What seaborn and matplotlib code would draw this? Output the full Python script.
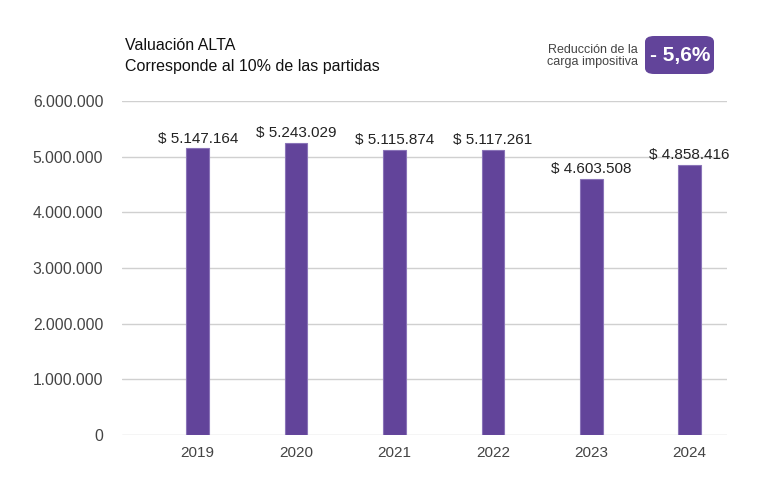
"""
Valuación ALTA - bar chart
"""
import matplotlib.pyplot as plt
import pandas as pd
import seaborn as sns
from matplotlib.patches import FancyBboxPatch
from matplotlib.ticker import FuncFormatter

years = ["2019", "2020", "2021", "2022", "2023", "2024"]
values = [5147164, 5243029, 5115874, 5117261, 4603508, 4858416]
y_ticks = [0, 1000000, 2000000, 3000000, 4000000, 5000000, 6000000]

title_lines = ["Valuación ALTA", "Corresponde al 10% de las partidas"]
badge_text = "- 5,6%"
badge_caption = "Reducción de la\ncarga impositiva"

bar_color = "#62449a"
text_color = "#444444"


def miles(v):
    return f"{int(v):,}".replace(",", ".")


if __name__ == "__main__":
    df = pd.DataFrame({"year": years, "value": values})

    sns.set_style("white")
    plt.rcParams["font.family"] = ["Liberation Sans", "DejaVu Sans"]

    fig = plt.figure(figsize=(7.67, 4.90), dpi=100)
    ax = fig.add_axes([122 / 767, 55 / 490, 605 / 767, 334 / 490])

    sns.barplot(
        data=df,
        x="year",
        y="value",
        order=years,
        color=bar_color,
        saturation=1,
        width=0.23,
        edgecolor="#8a74b8",
        linewidth=0.8,
        ax=ax,
    )

    # bar labels
    for p, v in zip(ax.patches, values):
        ax.annotate(
            "$ " + miles(v),
            (p.get_x() + p.get_width() / 2.0, p.get_height()),
            ha="center",
            va="bottom",
            xytext=(0, 2),
            textcoords="offset points",
            color="#222222",
            fontsize=11,
        )

    # axes styling
    ax.set_xlim(-0.77, 5.38)
    ax.set_ylim(0, 6000000)
    ax.set_yticks(y_ticks)
    ax.yaxis.set_major_formatter(FuncFormatter(lambda v, _: miles(v)))
    ax.grid(axis="y", color="#d0d0d0", linewidth=1)
    ax.set_axisbelow(True)
    for s in ax.spines.values():
        s.set_visible(False)
    ax.tick_params(axis="y", length=0, pad=13.5, labelsize=11.3, labelcolor=text_color)
    ax.tick_params(axis="x", length=0, pad=8, labelsize=11, labelcolor=text_color)
    ax.set_xlabel("")
    ax.set_ylabel("")

    # title
    fig.text(125 / 767, 1 - 45 / 490, title_lines[0], fontsize=11.5, color="#111111", va="center")
    fig.text(125 / 767, 1 - 66 / 490, title_lines[1], fontsize=11.5, color="#111111", va="center")

    # badge
    badge = FancyBboxPatch(
        (645 / 767, 1 - 74 / 490),
        69 / 767,
        38 / 490,
        boxstyle="round,pad=0,rounding_size=0.012",
        transform=fig.transFigure,
        facecolor=bar_color,
        edgecolor="none",
    )
    fig.patches.append(badge)
    fig.text(680 / 767, 1 - 56 / 490, badge_text, fontsize=15, fontweight="bold",
             color="white", ha="center", va="center")
    fig.text(638 / 767, 1 - 56 / 490, badge_caption, fontsize=9, color=text_color,
             ha="right", va="center", linespacing=0.95)

    plt.savefig("out.png", dpi=100)
